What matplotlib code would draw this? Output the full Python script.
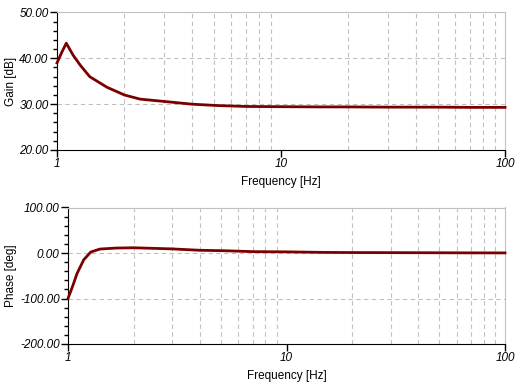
import numpy as np
import matplotlib
matplotlib.use("Agg")
import matplotlib.pyplot as plt
from matplotlib.ticker import MultipleLocator, LogLocator, FixedLocator, FuncFormatter

# frequency response
freq = [1.0, 1.05, 1.1, 1.18, 1.27, 1.4, 1.67, 2.0, 2.35, 3.0, 4.0, 5.2,
        7.0, 10.0, 15.0, 20.0, 30.0, 50.0, 70.0, 100.0]
gain_db = [39.0, 41.3, 43.3, 40.7, 38.5, 36.0, 33.7, 32.0, 31.1, 30.6, 30.0, 29.7,
           29.5, 29.45, 29.4, 29.4, 29.35, 29.35, 29.3, 29.3]
phase_deg = [-100.0, -73.0, -45.0, -15.0, 2.0, 8.7, 10.9, 11.5, 10.5, 9.0, 6.0, 5.0,
             3.0, 2.5, 1.3, 1.0, 0.8, 0.5, 0.3, 0.2]

gain_ticks = [20, 30, 40, 50]
phase_ticks = [-200, -100, 0, 100]
x_ticks = [1, 10, 100]

LINE = "#7a0000"
GRID = "#c0c0c0"

plt.rcParams["font.family"] = ["Liberation Sans", "DejaVu Sans"]

fig = plt.figure(figsize=(5.2, 3.9), dpi=100)
ax1 = fig.add_axes([57 / 520, 1 - 150 / 390, 448 / 520, 137.5 / 390])
ax2 = fig.add_axes([68 / 520, 1 - 344 / 390, 437 / 520, 136.5 / 390])


def style(ax, yticks, ylabel, minor_step):
    ax.set_xscale("log")
    ax.set_xlim(1, 100)
    ax.set_ylim(yticks[0], yticks[-1])
    ax.xaxis.set_major_locator(FixedLocator(x_ticks))
    ax.xaxis.set_major_formatter(FuncFormatter(lambda v, p: "%g" % v))
    ax.xaxis.set_minor_locator(LogLocator(base=10, subs=np.arange(2, 10)))
    ax.xaxis.set_minor_formatter(FuncFormatter(lambda v, p: ""))
    ax.yaxis.set_major_locator(FixedLocator(yticks))
    ax.yaxis.set_major_formatter(FuncFormatter(lambda v, p: "%.2f" % v))
    ax.yaxis.set_minor_locator(MultipleLocator(minor_step))
    ax.tick_params(axis="both", which="major", direction="out", length=5,
                   width=1, labelsize=8.5, pad=1)
    ax.tick_params(axis="y", which="minor", direction="out", length=3, width=1)
    ax.tick_params(axis="x", which="minor", length=0)
    for lab in ax.get_xticklabels() + ax.get_yticklabels():
        lab.set_fontstyle("italic")
    ax.grid(False)
    for t in yticks[1:-1]:
        ax.axhline(t, color=GRID, lw=0.8, ls=(0, (4, 3)), zorder=0)
    ax.xaxis.grid(True, which="minor", color=GRID, lw=0.8, ls=(0, (4, 3)))
    ax.set_axisbelow(True)
    ax.spines["top"].set_color(GRID)
    ax.spines["right"].set_color(GRID)
    ax.spines["left"].set_color("black")
    ax.spines["bottom"].set_color("black")
    ax.set_xlabel("Frequency [Hz]", fontsize=8.5, labelpad=4)
    ax.set_ylabel(ylabel, fontsize=8.5, labelpad=2)


ax1.plot(freq, gain_db, color=LINE, lw=2.0, clip_on=False, zorder=3)
style(ax1, gain_ticks, "Gain [dB]", 2)

ax2.plot(freq, phase_deg, color=LINE, lw=2.0, clip_on=False, zorder=3)
style(ax2, phase_ticks, "Phase [deg]", 20)

fig.savefig("out.png", dpi=100)
